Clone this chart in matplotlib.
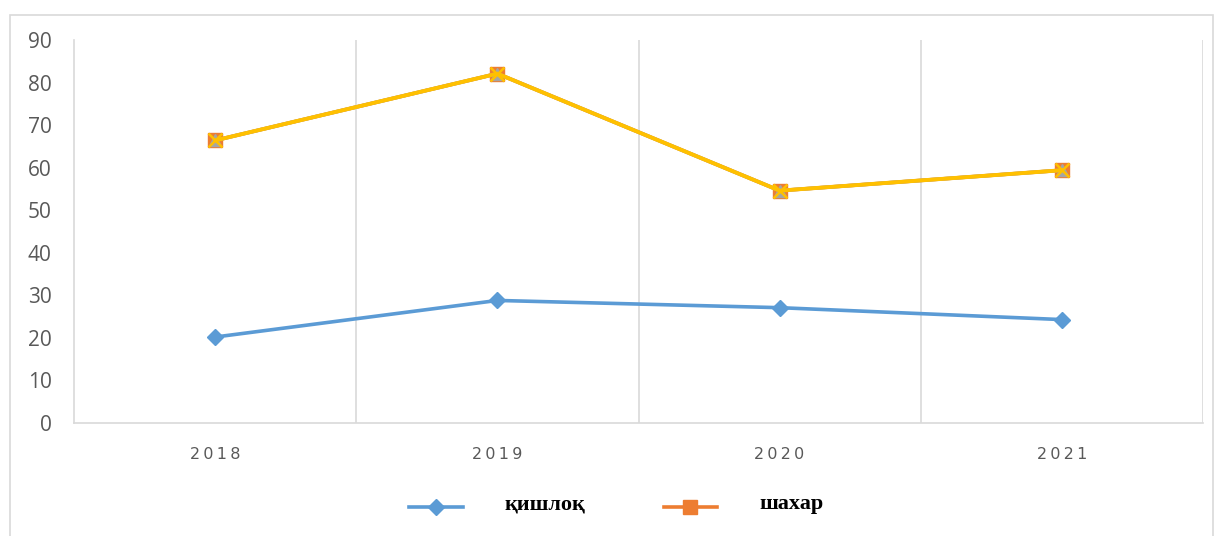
import numpy as np
import matplotlib.pyplot as plt
from matplotlib.patches import Rectangle
from matplotlib.lines import Line2D

years = ['2018', '2019', '2020', '2021']
qishloq = [20.2, 28.8, 27.1, 24.3]
shahar = [66.4, 82.1, 54.6, 59.4]
labels = ['қишлоқ', 'шахар']

fig = plt.figure(figsize=(12.23, 5.36), dpi=100)
ax = fig.add_axes([74 / 1223, 113 / 536, 1129 / 1223, 383 / 536])

# outer chart frame
fig.patches.append(Rectangle((10 / 1223, -0.01), 1203 / 1223, 526 / 536,
                             transform=fig.transFigure, fill=False,
                             edgecolor='#d9d9d9', linewidth=1.2))

x = np.arange(len(years))
ax.plot(x, qishloq, color='#5b9bd5', linewidth=2.6, marker='D', markersize=8,
        zorder=3)
ax.plot(x, shahar, color='#ed7d31', linewidth=2.6, marker='s', markersize=10,
        zorder=3)
ax.plot(x, shahar, color='#a5a5a5', linewidth=2.6, marker='^', markersize=8,
        zorder=4)
ax.plot(x, shahar, color='#ffc000', linewidth=2.8, marker='x', markersize=10,
        markeredgewidth=1.8, zorder=5)

ax.set_xlim(-0.5, 3.5)
ax.set_ylim(0, 90)
ax.set_yticks(range(0, 91, 10))
ax.set_xticks(x)
ax.set_xticklabels(['\u2009'.join(y) for y in years], family='DejaVu Sans')

for xb in [0.5, 1.5, 2.5, 3.5]:
    ax.axvline(xb, color='#d9d9d9', linewidth=1.2, zorder=1)

for s in ['top', 'right']:
    ax.spines[s].set_visible(False)
for s in ['left', 'bottom']:
    ax.spines[s].set_color('#d9d9d9')
    ax.spines[s].set_linewidth(1.2)

ax.tick_params(length=0, colors='#595959')
ax.tick_params(axis='y', labelsize=15, pad=16)
ax.tick_params(axis='x', labelsize=11.5, pad=17)
for t in ax.get_yticklabels():
    t.set_family('Open Sans')

handles = [
    Line2D([], [], color='#5b9bd5', linewidth=2.6, marker='D', markersize=8),
    Line2D([], [], color='#ed7d31', linewidth=2.6, marker='s', markersize=10),
]
leg = fig.legend(handles, labels, loc='center', bbox_to_anchor=(0.504, 0.05),
                 ncol=2, frameon=False, handlelength=2.4, columnspacing=3.5,
                 handletextpad=1.9,
                 prop={'family': 'Liberation Serif', 'weight': 'bold',
                       'size': 16})
for t in leg.get_texts():
    t.set_va('bottom')

fig.savefig('out.png', dpi=100)
